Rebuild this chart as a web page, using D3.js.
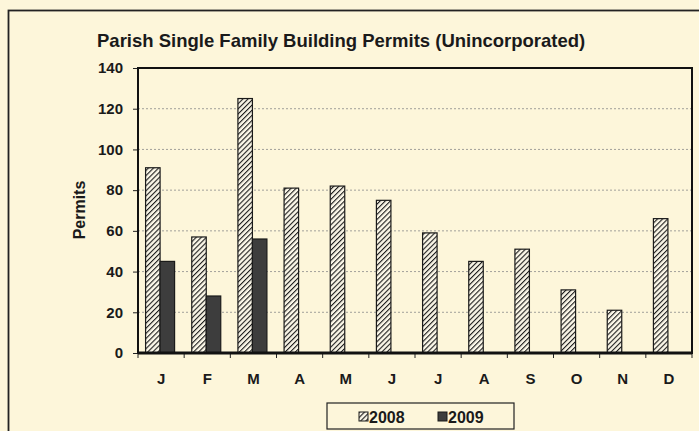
<!DOCTYPE html>
<html lang="en">
<head>
    <meta charset="UTF-8">
    <title>Parish Single Family Building Permits</title>
    <script src="https://d3js.org/d3.v7.min.js"></script>
    <style>
        body { margin: 0; background: #fdf6da; }
        text { font-family: "Liberation Sans", Arial, sans-serif; font-weight: bold; fill: #1a1a1a; }
    </style>
</head>
<body>
<svg id="chart" width="699" height="431"></svg>
<script>
    const months = ['J', 'F', 'M', 'A', 'M', 'J', 'J', 'A', 'S', 'O', 'N', 'D'];
    const permits2008 = [91, 57, 125, 81, 82, 75, 59, 45, 51, 31, 21, 66];
    const permits2009 = [45, 28, 56, null, null, null, null, null, null, null, null, null];
    const yTicks = [0, 20, 40, 60, 80, 100, 120, 140];
    const seriesNames = ['2008', '2009'];

    const svg = d3.select('#chart');
    const plotLeft = 138, plotTop = 68, plotRight = 692, plotBottom = 353;

    // outer frame
    svg.append('rect')
        .attr('x', 8.5).attr('y', 10.5)
        .attr('width', 710).attr('height', 440)
        .attr('fill', '#fdf6da')
        .attr('stroke', '#222').attr('stroke-width', 1.8);

    // hatch pattern
    const defs = svg.append('defs');
    const pat = defs.append('pattern')
        .attr('id', 'hatch')
        .attr('patternUnits', 'userSpaceOnUse')
        .attr('width', 3.6).attr('height', 3.6)
        .attr('patternTransform', 'rotate(45)');
    pat.append('rect').attr('width', 3.6).attr('height', 3.6).attr('fill', '#fbf7e8');
    pat.append('line').attr('x1', 0).attr('y1', 0).attr('x2', 0).attr('y2', 3.6)
        .attr('stroke', '#1a1a1a').attr('stroke-width', 2.2);

    const x = d3.scaleBand().domain(d3.range(months.length)).range([plotLeft, plotRight]);
    const y = d3.scaleLinear().domain([0, 140]).range([plotBottom, plotTop]);
    const barW = 14.5;

    // gridlines
    svg.append('g').selectAll('line')
        .data(yTicks.filter(t => t > 0 && t < 140))
        .join('line')
        .attr('x1', plotLeft).attr('x2', plotRight)
        .attr('y1', d => y(d)).attr('y2', d => y(d))
        .attr('stroke', '#8a8a8a').attr('stroke-width', 0.8)
        .attr('stroke-dasharray', '2,2');

    // title
    svg.append('text')
        .attr('x', 97).attr('y', 47)
        .style('font-size', '18.5px')
        .text('Parish Single Family Building Permits (Unincorporated)');

    // y axis label
    svg.append('text')
        .attr('transform', `translate(85, 210) rotate(-90)`)
        .attr('text-anchor', 'middle')
        .style('font-size', '16px')
        .text('Permits');

    // bars 2008
    svg.append('g').selectAll('rect')
        .data(permits2008)
        .join('rect')
        .attr('x', (d, i) => x(i) + x.bandwidth() / 2 - barW - 1)
        .attr('y', d => y(d))
        .attr('width', barW)
        .attr('height', d => y(0) - y(d))
        .attr('fill', 'url(#hatch)')
        .attr('stroke', '#1a1a1a').attr('stroke-width', 1.2);

    // bars 2009
    svg.append('g').selectAll('rect')
        .data(permits2009.map((v, i) => ({v, i})).filter(d => d.v != null))
        .join('rect')
        .attr('x', d => x(d.i) + x.bandwidth() / 2 - 1)
        .attr('y', d => y(d.v))
        .attr('width', barW)
        .attr('height', d => y(0) - y(d.v))
        .attr('fill', '#3d3d3d')
        .attr('stroke', '#1a1a1a').attr('stroke-width', 1.2);

    // y axis
    const yAxis = svg.append('g')
        .attr('transform', `translate(${plotLeft}, 0)`)
        .call(d3.axisLeft(y).tickValues(yTicks).tickSize(5).tickPadding(10));
    yAxis.select('.domain').remove();
    yAxis.selectAll('line').attr('stroke', '#222');
    yAxis.selectAll('text').style('font-size', '15px').style('font-family', '"Liberation Sans", Arial, sans-serif');

    // x axis
    const xAxis = svg.append('g')
        .attr('transform', `translate(0, ${plotBottom})`)
        .call(d3.axisBottom(x).tickFormat(i => months[i]).tickSize(0).tickPadding(20));
    xAxis.select('.domain').remove();
    xAxis.selectAll('text').style('font-size', '15px').style('font-family', '"Liberation Sans", Arial, sans-serif');
    svg.append('g').selectAll('line')
        .data(d3.range(months.length + 1))
        .join('line')
        .attr('x1', i => plotLeft + i * x.step()).attr('x2', i => plotLeft + i * x.step())
        .attr('y1', plotBottom).attr('y2', plotBottom + 5)
        .attr('stroke', '#222');

    // plot border
    svg.append('rect')
        .attr('x', plotLeft).attr('y', plotTop)
        .attr('width', plotRight - plotLeft).attr('height', plotBottom - plotTop)
        .attr('fill', 'none')
        .attr('stroke', '#111').attr('stroke-width', 2);
    svg.append('line')
        .attr('x1', plotLeft).attr('x2', plotRight)
        .attr('y1', plotBottom).attr('y2', plotBottom)
        .attr('stroke', '#111').attr('stroke-width', 3);

    // legend
    const lg = svg.append('g').attr('transform', 'translate(327, 403)');
    lg.append('rect').attr('width', 187).attr('height', 26)
        .attr('fill', '#fdf6da').attr('stroke', '#222').attr('stroke-width', 1.2);
    const fills = ['url(#hatch)', '#3d3d3d'];
    seriesNames.forEach((name, k) => {
        const gx = 32 + k * 79;
        lg.append('rect').attr('x', gx).attr('y', 9).attr('width', 9).attr('height', 9)
            .attr('fill', fills[k]).attr('stroke', '#1a1a1a').attr('stroke-width', 1);
        lg.append('text').attr('x', gx + 10).attr('y', 19.5)
            .style('font-size', '16px').text(name);
    });
</script>
</body>
</html>
